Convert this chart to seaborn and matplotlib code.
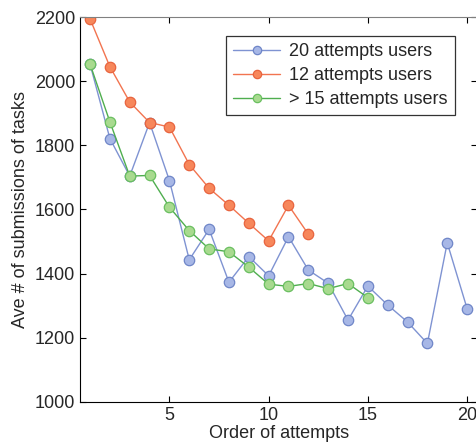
import numpy as np
import pandas as pd
import seaborn as sns
import matplotlib.pyplot as plt

# values
attempts_20 = np.arange(1, 21)
users_20 = [2053, 1821, 1704, 1871, 1690, 1443, 1538, 1373, 1453, 1393,
            1515, 1411, 1370, 1255, 1361, 1302, 1249, 1182, 1496, 1291]
attempts_12 = np.arange(1, 13)
users_12 = [2194, 2045, 1935, 1871, 1857, 1740, 1666, 1613, 1557, 1502,
            1613, 1523]
attempts_15 = np.arange(1, 16)
users_15 = [2053, 1873, 1704, 1706, 1607, 1534, 1477, 1468, 1420, 1367,
            1360, 1369, 1353, 1369, 1325]

series = [
    ('20 attempts users', attempts_20, users_20, '#7f93d2', '#a7b7e6', '#6f86c8'),
    ('12 attempts users', attempts_12, users_12, '#f27450', '#f7875b', '#e8643e'),
    ('> 15 attempts users', attempts_15, users_15, '#4fae4f', '#a8da8f', '#6abf60'),
]

sns.set_style('ticks')
plt.rcParams['font.family'] = ['Liberation Sans', 'DejaVu Sans']

fig = plt.figure(figsize=(4.77, 4.48), dpi=100)
ax = fig.add_axes([0.168, 0.103, 0.832, 0.859])

for name, x, y, lc, fc, ec in series:
    df = pd.DataFrame({'attempt': x, 'subs': y})
    sns.lineplot(data=df, x='attempt', y='subs', ax=ax, label=name,
                 color=lc, lw=1.0, marker='o', markersize=7.5,
                 markerfacecolor=fc, markeredgecolor=ec, markeredgewidth=0.9)

ax.set_xlim(0.5, 20.5)
ax.set_ylim(1000, 2200)
ax.set_xticks([5, 10, 15, 20])
ax.set_yticks(np.arange(1000, 2201, 200))
ax.tick_params(direction='in', length=4, labelsize=13, top=True, right=True,
               color='black', width=0.8)
ax.set_xlabel('Order of attempts', fontsize=13, labelpad=1)
ax.set_ylabel('Ave # of submissions of tasks', fontsize=13, labelpad=4)
for s in ['left', 'bottom']:
    ax.spines[s].set_color('black')
ax.spines['top'].set_color('#808080')
ax.spines['right'].set_visible(False)

leg = ax.legend(loc='upper left', bbox_to_anchor=(0.368, 0.95), fontsize=13,
                frameon=True, fancybox=False, edgecolor='black',
                handlelength=2.6, handletextpad=0.5, borderpad=0.4,
                labelspacing=0.38, borderaxespad=0, markerscale=0.8)
leg.get_frame().set_linewidth(0.9)

fig.savefig('out.png', dpi=100)
